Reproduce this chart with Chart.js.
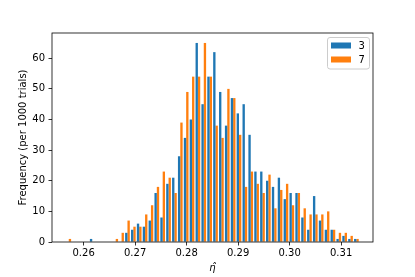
<!DOCTYPE html>
<html><head><meta charset="utf-8">
<script src="https://cdn.jsdelivr.net/npm/chart.js@4"></script>
<style>html,body{margin:0;padding:0;background:#fff}#wrap{width:415px;height:277px}</style>
</head><body><div id="wrap"><canvas id="c" width="415" height="277"></canvas></div>
<script>
const binCenters = [0.257114,0.258254,0.259394,0.260533,0.261673,0.262813,0.263953,0.265093,0.266232,0.267372,
  0.268512,0.269652,0.270792,0.271931,0.273071,0.274211,0.275351,0.276491,0.277630,0.278770,
  0.279910,0.281050,0.282190,0.283329,0.284469,0.285609,0.286749,0.287889,0.289028,0.290168,
  0.291308,0.292448,0.293588,0.294727,0.295867,0.297007,0.298147,0.299287,0.300426,0.301566,
  0.302706,0.303846,0.304986,0.306125,0.307265,0.308405,0.309545,0.310685,0.311824,0.312964];
const series3 = [0,0,0,0,1,0,0,0,0,0,
  3,4,6,5,7,16,8,19,21,28,
  34,40,65,45,54,62,49,38,47,42,
  45,35,23,23,20,18,21,14,16,16,
  8,4,15,7,4,4,1,2,1,1];
const series7 = [1,0,0,0,0,0,0,0,1,3,
  7,5,5,9,12,18,23,21,16,39,
  49,54,54,65,54,38,34,50,47,35,
  18,23,19,16,22,11,17,19,12,16,
  11,9,9,9,10,4,3,3,2,1];
const seriesLabels = ['3', '7'];
const seriesColors = ['#1f77b4', '#ff7f0e'];
const xTicks = [0.26, 0.27, 0.28, 0.29, 0.30, 0.31];
const yTicks = [0, 10, 20, 30, 40, 50, 60];
const xLabel = 'η̂';
const yLabel = 'Frequency (per 1000 trials)';

const FONT = 'DejaVu Sans';

const framePlugin = {
  id: 'frameLegend',
  afterDraw(chart) {
    const {ctx, chartArea: a} = chart;
    ctx.save();
    ctx.strokeStyle = '#000';
    ctx.lineWidth = 0.8;
    ctx.strokeRect(a.left, a.top, a.right - a.left, a.bottom - a.top);
    // legend
    const bx = 327.5, by = 37.5, bw = 42, bh = 31.5, r = 2.5;
    ctx.beginPath();
    ctx.moveTo(bx + r, by);
    ctx.lineTo(bx + bw - r, by); ctx.quadraticCurveTo(bx + bw, by, bx + bw, by + r);
    ctx.lineTo(bx + bw, by + bh - r); ctx.quadraticCurveTo(bx + bw, by + bh, bx + bw - r, by + bh);
    ctx.lineTo(bx + r, by + bh); ctx.quadraticCurveTo(bx, by + bh, bx, by + bh - r);
    ctx.lineTo(bx, by + r); ctx.quadraticCurveTo(bx, by, bx + r, by);
    ctx.closePath();
    ctx.fillStyle = 'rgba(255,255,255,0.8)';
    ctx.fill();
    ctx.strokeStyle = '#cccccc';
    ctx.lineWidth = 1;
    ctx.stroke();
    ctx.font = '10px "' + FONT + '"';
    ctx.textBaseline = 'middle';
    ctx.textAlign = 'left';
    chart.data.datasets.forEach((ds, i) => {
      const y = 42.5 + i * 14;
      ctx.fillStyle = ds.backgroundColor;
      ctx.fillRect(331, y, 20, 6);
      ctx.fillStyle = '#000';
      ctx.fillText(ds.label, 358.5, y + 3.5);
    });
    ctx.restore();
  }
};

new Chart(document.getElementById('c').getContext('2d'), {
  type: 'bar',
  data: {
    datasets: [series3, series7].map((s, k) => ({
      label: seriesLabels[k],
      data: binCenters.map((x, i) => ({x: x, y: s[i]})),
      backgroundColor: seriesColors[k],
      borderWidth: 0,
      categoryPercentage: 0.8,
      barPercentage: 1.0
    }))
  },
  options: {
    responsive: false,
    animation: false,
    devicePixelRatio: 1,
    layout: {padding: {left: 0, right: 42, top: 33, bottom: 0}},
    plugins: {legend: {display: false}, tooltip: {enabled: false}},
    scales: {
      x: {
        type: 'linear', min: 0.25386, max: 0.31619, offset: false,
        afterBuildTicks: s => { s.ticks = xTicks.map(v => ({value: v})); },
        afterFit: s => { s.height = 35; },
        grid: {drawOnChartArea: false, drawTicks: true, tickLength: 3.5, color: '#000', lineWidth: 0.8, offset: false},
        border: {display: false},
        ticks: {color: '#000', font: {family: FONT, size: 10}, padding: 2, maxRotation: 0, autoSkip: false,
          callback: v => Number(v).toFixed(2)},
        title: {display: true, text: xLabel, color: '#000', font: {family: FONT, size: 10, style: 'italic'}, padding: {top: 0, bottom: 3}}
      },
      y: {
        min: 0, max: 68.25,
        afterBuildTicks: s => { s.ticks = yTicks.map(v => ({value: v})); },
        afterFit: s => { s.width = 52; },
        grid: {drawOnChartArea: false, drawTicks: true, tickLength: 3.5, color: '#000', lineWidth: 0.8},
        border: {display: false},
        ticks: {color: '#000', font: {family: FONT, size: 10}, padding: 3.5, autoSkip: false,
          callback: v => String(v)},
        title: {display: true, text: yLabel, color: '#000', font: {family: FONT, size: 10}, padding: {top: 17, bottom: 0}}
      }
    }
  },
  plugins: [framePlugin]
});
</script>
</body></html>
